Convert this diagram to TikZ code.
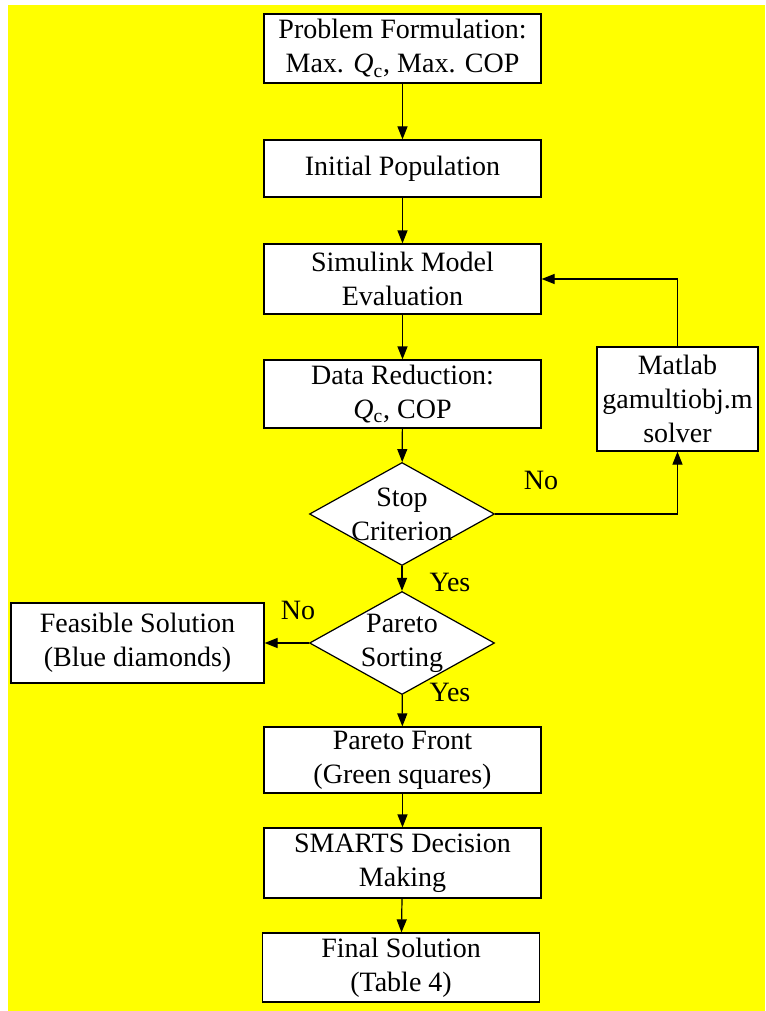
\documentclass[tikz,border=0pt]{standalone}
\usepackage{fontspec}
\setmainfont{Liberation Serif}
\usepackage{xcolor}
\usetikzlibrary{arrows.meta, positioning, shapes.geometric}
\definecolor{bgyellow}{RGB}{255,255,0}

\begin{document}
\begin{tikzpicture}[
    x=0.5pt, y=-0.5pt,
    every node/.style={font=\fontsize{14}{17}\selectfont},
    box/.style={draw, fill=white, line width=0.6pt, align=center, inner sep=0pt,
      minimum width=138.5pt, minimum height=34.5pt},
    decision/.style={draw, fill=white, line width=0.6pt, diamond, aspect=1.8,
      align=center, inner sep=-2pt, minimum width=92.5pt, minimum height=51.5pt},
    flow/.style={line width=0.6pt, -{Triangle[length=6.5pt, width=5pt]}},
    >=Stealth
  ]
  \useasboundingbox (0,0) rectangle (765,1011);
  \fill[bgyellow] (8,5) rectangle (765,1011);
  % Main column
  \node[box] (form) at (402.5, 48.5) {Problem Formulation:\\Max. \textit{Q}\textsubscript{c}, Max. COP};
  \node[box, minimum height=28.5pt] (init) at (402.5, 168.5) {Initial Population};
  \node[box, minimum height=35pt] (simu) at (402.5, 279) {Simulink Model\\Evaluation};
  \node[box, minimum height=34pt] (data) at (402.5, 394) {Data Reduction:\\\textit{Q}\textsubscript{c}, COP};
  \node[decision] (stop) at (402, 514) {Stop\\Criterion};
  \node[decision] (pareto) at (402, 643) {Pareto\\Sorting};
  \node[box, minimum height=33pt] (front) at (402.5, 760) {Pareto Front\\(Green squares)};
  \node[box, minimum height=35pt] (smarts) at (402.5, 863) {SMARTS Decision\\Making};
  \node[box] (final) at (401, 967.5) {Final Solution\\(Table 4)};
  % Side boxes
  \node[box, minimum width=80.5pt, minimum height=52pt] (matlab) at (677.5, 399) {Matlab\\gamultiobj.m\\solver};
  \node[box, minimum width=126.5pt, minimum height=40pt] (feas) at (137.5, 643) {Feasible Solution\\(Blue diamonds)};
  % Labels
  \node (no1) at (541, 480) {No};
  \node (yes1) at (450, 582) {Yes};
  \node (no2) at (298, 610) {No};
  \node (yes2) at (450, 692) {Yes};
  % Arrows
  \draw[flow] (form) -- (init);
  \draw[flow] (init) -- (simu);
  \draw[flow] (simu) -- (data);
  \draw[flow] (data) -- (stop);
  \draw[flow] (stop) -- (pareto);
  \draw[flow] (pareto) -- (front);
  \draw[flow] (front) -- (smarts);
  \draw[flow] (smarts) -- (final);
  \draw[flow] (pareto) -- (feas);
  \draw[flow] (stop.east) -| (matlab.south);
  \draw[flow] (matlab.north) |- (simu.east);
\end{tikzpicture}
\end{document}
